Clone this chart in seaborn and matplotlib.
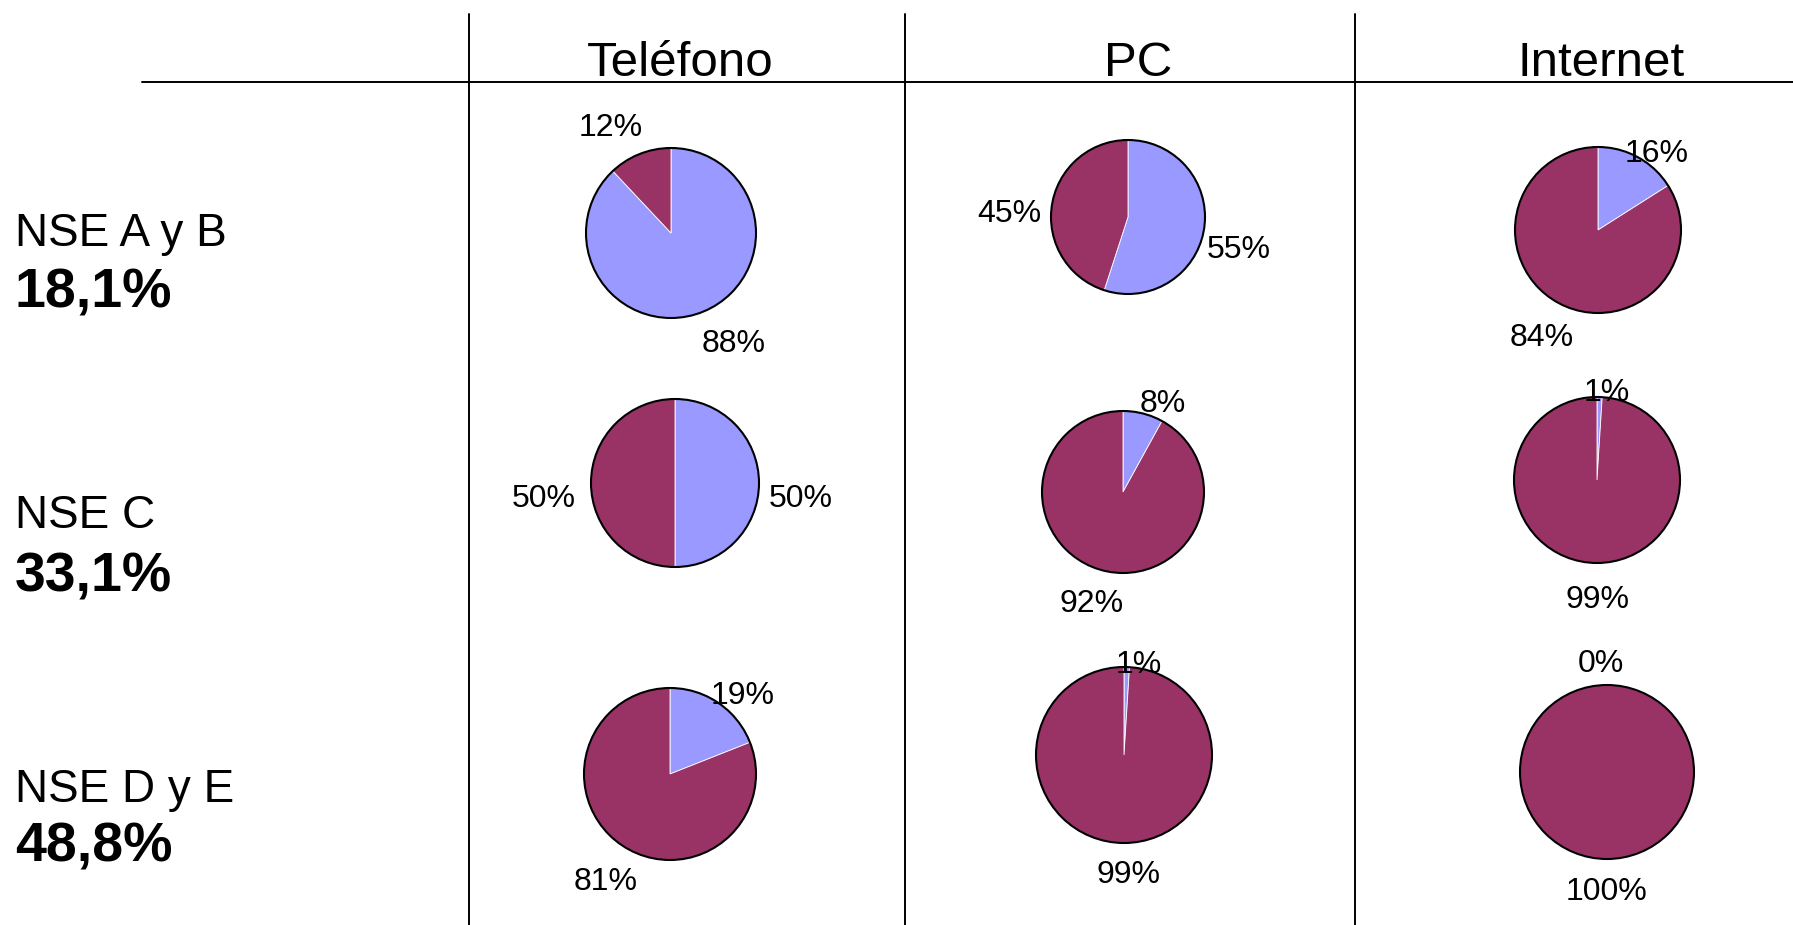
import numpy as np
import matplotlib
matplotlib.use("Agg")
import matplotlib.pyplot as plt
import seaborn as sns
from matplotlib.patches import Circle

# ---------------- data ----------------
columns = ["Teléfono", "PC", "Internet"]
row_names = ["NSE A y B", "NSE C", "NSE D y E"]
row_shares = ["18,1%", "33,1%", "48,8%"]
# each pair: [has, has not] in %
telefono = [[88, 12], [50, 50], [19, 81]]
pc = [[55, 45], [8, 92], [1, 99]]
internet = [[16, 84], [1, 99], [0, 100]]
values = [telefono, pc, internet]

# ---------------- style / layout ----------------
sns.set_theme(style="white")
palette = sns.color_palette(["#9999FF", "#993366"])
plt.rcParams["font.family"] = ["Liberation Sans", "DejaVu Sans"]

W, H = 1793, 925
fig = plt.figure(figsize=(W / 100, H / 100), dpi=100)
ax = fig.add_axes([0, 0, 1, 1])

# pie centres (x, y from top) and radius in px, per column then row
layout = [
    [(671, 233, 85), (675, 483, 84), (670, 774, 86)],
    [(1128, 217, 77), (1123, 492, 81), (1124, 755, 88)],
    [(1598, 230, 83), (1597, 480, 83), (1607, 772, 87)],
]
# label placement: (distance in radii, angle offset in degrees) per wedge
label_pos = [
    [[(1.45, 9), (1.48, 7)], [(1.5, -5), (1.57, 5)], [(1.28, -7), (1.41, 2)]],
    [[(1.48, -5), (1.55, 5)], [(1.25, -9), (1.38, -2)], [(1.09, -7), (1.31, 4)]],
    [[(1.21, -7), (1.42, 0)], [(1.12, -4), (1.38, 2)], [(1.30, 3), (1.32, 0)]],
]
label_shift = -5  # px, vertical nudge of labels

for ci, col in enumerate(values):
    for ri, pair in enumerate(col):
        cx, cy, r = layout[ci][ri]
        cyf = H - cy
        wedges, _ = ax.pie(pair, colors=palette, startangle=90, counterclock=False,
                           center=(cx, cyf), radius=r, frame=True,
                           wedgeprops=dict(edgecolor="white", linewidth=0.6))
        ax.add_patch(Circle((cx, cyf), r, fill=False, edgecolor="black", linewidth=1.5, zorder=5))
        for k, w in enumerate(wedges):
            dist, off = label_pos[ci][ri][k]
            mid = np.deg2rad((w.theta1 + w.theta2) / 2 + off)
            d = dist * r
            ax.text(cx + d * np.cos(mid), cyf + d * np.sin(mid) + label_shift, f"{pair[k]}%",
                    ha="center", va="center", fontsize=23, color="black",
                    family=["Liberation Sans", "DejaVu Sans"], zorder=6)

# grid lines
ax.plot([142, W], [H - 82, H - 82], color="black", lw=1.4)
for x in [469, 905, 1355]:
    ax.plot([x, x], [H - 14, 0], color="black", lw=1.4)

# column headers
for name, x in zip(columns, [680, 1138, 1601]):
    ax.text(x, H - 76, name, ha="center", va="baseline", fontsize=35.5, color="black")

# row labels
name_base = [246, 528, 802]
share_base = [308, 591, 862]
for n, s, b1, b2 in zip(row_names, row_shares, name_base, share_base):
    ax.text(15, H - b1, n, ha="left", va="baseline", fontsize=33, color="black")
    ax.text(15, H - b2, s, ha="left", va="baseline", fontsize=40, fontweight="bold", color="black")

ax.set_xlim(0, W)
ax.set_ylim(0, H)
ax.set_aspect("auto")
ax.axis("off")

fig.savefig("out.png", dpi=100, facecolor="white")
